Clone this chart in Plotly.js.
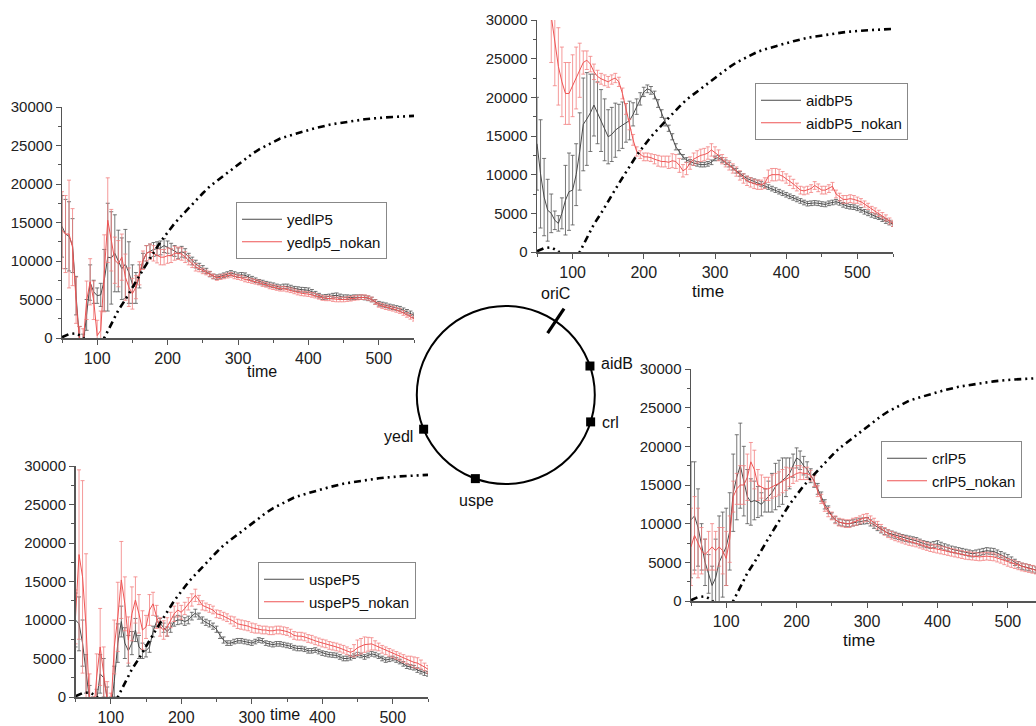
<!DOCTYPE html>
<html>
<head>
<meta charset="utf-8">
<script src="https://cdn.plot.ly/plotly-3.0.1.min.js"></script>
<style>html,body{margin:0;padding:0;background:#fff}#chart{width:1036px;height:726px}</style>
</head>
<body>
<div id="chart"></div>
<script>
// ---------- data ----------
const time = [50,55,60,65,70,75,80,85,90,95,100,105,110,115,120,125,130,135,140,145,150,155,160,165,170,175,180,185,190,195,200,205,210,215,220,225,230,235,240,245,250,255,260,265,270,275,280,285,290,295,300,305,310,315,320,325,330,335,340,345,350,355,360,365,370,375,380,385,390,395,400,405,410,415,420,425,430,435,440,445,450,455,460,465,470,475,480,485,490,495,500,505,510,515,520,525,530,535,540,545,550];

// growth curve (dash-dot-dot), shared by all panels
const curveTime = [50,60,70,80,90,100,110,120,130,140,150,160,170,180,190,200,210,220,230,240,250,260,270,280,290,300,310,320,330,340,350,360,370,380,390,400,410,420,430,440,450,460,470,480,490,500,510,520,530,540,550];
const curve = [100,500,600,100,-1500,-1500,0,1800,3600,5000,6600,8100,9600,11100,12500,13700,14900,15900,16900,17900,18800,19700,20400,21100,21900,22600,23300,23900,24500,25000,25500,25900,26200,26500,26800,27000,27250,27500,27700,27850,28000,28150,28300,28400,28500,28600,28650,28700,28750,28800,28850];

// yedl panel
const yedlP5 = [14500,13500,13200,12000,5500,-500,-1000,3000,7200,6000,
5500,5600,7500,10500,10400,11000,10000,9000,9600,8500,
7000,6500,8000,10000,11000,11300,11500,11600,11700,12000,
11800,11500,11300,11000,11200,11000,10500,10000,9600,9300,
9000,8700,8300,8000,7900,8000,8150,8300,8450,8300,
8150,8200,8150,7900,7700,7500,7300,7200,7050,6950,
6850,6700,6600,6700,6700,6550,6400,6350,6280,6250,
6200,6000,5750,5500,5300,5350,5400,5500,5550,5400,
5300,5300,5250,5300,5300,5300,5250,5150,5000,4700,
4450,4350,4250,4100,4000,3900,3800,3600,3400,3200,2950];
const yedlP5_err = [4000,4500,4500,3500,2500,2000,1500,2000,2300,1500,
1000,1500,4000,7000,6000,5000,4000,4000,4500,4000,
2500,2000,1500,1000,1000,900,900,900,900,900,
800,800,700,700,700,600,500,500,500,400,
400,350,350,300,300,300,300,300,300,300,
300,300,300,300,300,300,300,300,300,300,
300,300,300,300,300,300,300,300,300,300,
300,300,300,300,300,300,300,300,300,300,
300,300,300,300,300,300,300,300,300,300,
300,300,300,300,300,300,300,300,300,300,300];
const yedlp5_nokan = [14000,13500,13500,11800,4900,-500,-800,4900,7300,4900,
300,1000,8400,15300,12700,10100,9650,10500,7900,6600,
5750,6600,8400,10100,11000,11200,11000,10750,10500,10500,
10700,10700,11000,11000,10900,10500,10100,9650,9200,9000,
8700,8500,8300,8000,7800,7900,8000,8100,8200,8000,
7900,7800,7600,7500,7400,7300,7200,7000,6900,6700,
6600,6500,6400,6400,6300,6200,6050,5900,5800,5750,
5700,5600,5500,5350,5200,5150,5150,5050,5000,5000,
5000,5050,5100,5200,5250,5300,5300,5200,5000,4650,
4300,4150,4000,3900,3800,3650,3500,3250,3000,2750,2500];
const yedlp5_nokan_err = [5000,5000,7000,5000,3000,2000,2000,2500,3000,2500,
2000,2500,5000,5500,4000,3000,3000,3000,3000,2500,
2000,1500,1500,1200,1000,1000,1000,1000,1000,1000,
1000,900,900,800,800,700,600,500,500,400,
350,300,300,300,300,300,300,300,300,300,
300,300,300,300,300,300,300,300,300,300,
300,300,300,300,300,300,300,300,300,300,
300,300,300,300,300,300,300,300,300,300,
300,300,300,300,300,300,300,300,300,300,
300,300,300,300,300,300,300,300,300,300,300];

// aidb panel
const aidbP5 = [14000,10100,7100,5400,5000,4100,3700,5000,6700,7800,
8000,10000,13000,16500,17200,18000,19000,18000,17000,15800,
14900,15200,15750,16100,16400,16700,17000,17800,18800,19800,
20700,21100,20900,20300,19200,17900,16800,16000,14900,13600,
12950,12300,11900,11650,11500,11400,11300,11300,11400,11600,
12100,12200,11900,11600,11300,10900,10500,10100,9800,9500,
9300,9150,9000,8800,8600,8400,8200,8000,7800,7600,
7400,7200,7000,6800,6600,6400,6250,6300,6350,6300,
6200,6150,6300,6400,6500,6350,6100,5950,5850,5800,
5650,5450,5200,5000,4800,4650,4500,4250,4000,3800,3600];
const aidbP5_err = [6000,7000,5000,4000,2500,1200,1000,2000,4500,5000,
4500,4000,5000,6000,6000,5000,4000,4000,4000,4000,
3500,3500,3500,3000,3000,2500,2500,1500,1000,800,
600,500,500,500,500,500,500,400,400,400,
300,300,300,300,300,300,300,300,300,300,
300,300,300,300,300,300,300,300,300,300,
300,300,300,300,300,300,300,300,300,300,
300,300,300,300,300,300,300,300,300,300,
300,300,300,300,300,300,300,300,300,300,
300,300,300,300,300,300,300,300,300,300,300];
const aidbP5_nokan = [40000,40000,40000,40000,30500,27000,24000,22000,20500,20500,
21500,22500,23500,24500,24800,24300,23300,22700,22400,22200,
22000,22300,22500,22000,20500,18500,16500,14500,13000,12600,
12300,12300,12200,12000,11800,11700,11700,11600,11800,11700,
11200,10500,10800,11500,12000,12300,12500,12600,12800,13200,
12900,12500,12000,11600,11200,10800,10400,9900,9500,9200,
9000,8800,8700,8700,8900,9800,10000,10000,10000,9800,
9500,9200,8800,8400,8000,7900,8000,8200,8600,8300,
8000,8000,8200,8500,7500,7100,6800,6800,6900,6800,
6700,6500,6200,5900,5500,5300,5000,4700,4400,4000,3700];
const aidbP5_nokan_err = [6000,6000,6000,6000,6000,5500,5000,4500,4000,4000,
4000,4000,3500,1500,1200,1000,1000,800,700,700,
700,600,600,600,700,700,700,700,600,500,
500,500,500,600,700,700,700,800,900,900,
900,800,800,800,800,800,800,800,800,800,
700,700,600,600,600,600,600,600,600,600,
600,600,600,600,700,800,800,800,700,600,
600,600,600,500,500,500,500,500,500,500,
500,500,500,500,500,500,500,500,500,500,
400,400,400,400,400,400,400,400,400,400,400];

// uspe panel
const uspeP5 = [10000,9500,7000,3000,-500,-1500,-500,3000,2500,-200,
-1500,2000,7000,9800,7000,6000,7000,8700,6500,6000,
6000,6500,8500,9800,9600,9000,8500,9000,9800,10000,
10000,9800,10000,10500,10900,10500,10000,9700,9500,9200,
8800,8000,7400,7000,7000,7200,7300,7300,7200,7100,
7000,7200,7400,7300,7000,6900,6800,6900,6900,6800,
6700,6600,6400,6300,6300,6200,6000,6000,6100,5900,
5700,5600,5500,5450,5400,5200,5000,5000,5100,5300,
5500,5400,5200,5400,5600,5500,5300,5000,4800,4900,
5000,4800,4600,4300,4000,3900,3800,3500,3300,3100,3000];
const uspeP5_err = [3500,3500,3000,2500,2000,1500,1500,2500,2500,1500,
1500,2000,2500,2000,2000,2000,1500,1500,1500,1000,
800,700,700,700,600,600,600,600,600,600,
500,500,500,500,500,400,400,400,400,400,
400,400,400,300,300,300,300,300,300,300,
300,300,300,300,300,300,300,300,300,300,
300,300,300,300,300,300,300,300,300,300,
300,300,300,300,300,300,300,300,300,300,
300,300,300,300,300,300,300,300,300,300,
300,300,300,300,300,300,300,300,300,300,300];
const uspeP5_nokan = [10400,18500,15600,9100,-1000,-3000,2600,6500,3000,-500,
-2000,6500,10400,15200,12100,7400,10800,12600,10800,8700,
9100,11300,12100,10400,9100,8700,9100,10000,10800,11300,
11000,11500,12100,12600,13200,12600,11900,11700,11500,11300,
10800,10700,10500,10300,10000,9800,9500,9400,9300,9200,
9000,8900,8800,8700,8700,8600,8600,8700,8700,8600,
8500,8300,8000,7900,7900,7800,7600,7500,7300,7150,
7000,6900,6700,6600,6500,6350,6200,6000,5800,6000,
6400,6600,6800,6850,6900,6700,6500,6200,6000,5800,
5600,5400,5200,5000,4800,4700,4500,4400,4200,3900,3600];
const uspeP5_nokan_err = [3500,11000,12500,9500,4000,3000,3000,5000,3500,2500,
2500,3500,4500,5000,3500,3000,3500,3000,2500,2500,
1500,2000,1500,1500,1200,1200,1200,1000,1000,900,
900,800,800,800,800,600,600,500,500,500,
500,500,500,500,500,600,600,600,600,600,
600,600,500,500,500,500,500,500,500,500,
500,500,500,500,500,500,500,500,500,500,
500,500,500,500,500,500,500,500,500,800,
1000,1000,1000,900,800,600,500,500,500,500,
500,500,500,500,500,600,700,700,600,500,500];

// crl panel
const crlP5 = [10500,11000,9500,7000,5000,3500,2000,3000,5000,6000,
7000,9000,14000,16000,17500,15500,13500,12800,13000,12800,
12500,13000,13500,14000,14800,15200,15500,16000,16500,17500,
18500,18200,17500,17000,16200,15500,14500,13500,12500,11800,
11000,10500,10200,10100,10000,10000,10100,10200,10300,10350,
10400,10100,9800,9500,9200,9000,8800,8650,8500,8350,
8200,8100,8000,7900,7800,7600,7400,7300,7200,7300,
7400,7200,7000,6850,6700,6600,6500,6400,6300,6200,
6100,6200,6300,6400,6500,6450,6400,6200,6000,5800,
5600,5300,5000,4700,4500,4400,4300,4150,4000,3850,3700];
const crlP5_err = [7500,7000,5000,3000,3000,2500,2500,5000,6000,5500,
5000,5000,5000,5500,5500,4500,3500,3000,2500,2000,
1500,1500,2000,2500,3000,3000,3000,2500,2000,1500,
1300,1200,1200,1000,900,800,700,600,600,500,
400,400,400,400,400,400,400,400,400,400,
400,400,400,400,400,400,400,400,400,400,
400,400,400,400,400,400,400,400,400,400,
400,400,400,400,400,400,400,400,400,400,
400,400,400,400,400,400,400,400,400,400,
400,400,400,400,400,400,400,400,400,400,400];
const crlP5_nokan = [7000,8500,7500,6500,6000,6500,7000,6500,7000,6500,
5500,8000,13500,14500,15000,15000,16000,18000,17000,15000,
14800,14500,14500,14800,15000,15200,15500,15800,16000,16200,
16500,16600,16500,16500,16200,15500,14200,13200,12200,11500,
11000,10500,10200,10100,10000,10000,10200,10300,10500,10700,
10800,10500,10200,9800,9400,9000,8700,8500,8300,8150,
8000,7850,7700,7600,7500,7350,7200,7050,6900,6800,
6700,6600,6500,6400,6300,6200,6100,6000,5900,5850,
5800,5750,5700,5750,5800,5750,5700,5550,5400,5200,
5000,4850,4700,4550,4400,4300,4200,4100,4000,3850,3700];
const crlP5_nokan_err = [5000,5000,4500,3000,2000,2500,3000,2500,2500,3000,
3500,3000,2000,2000,2500,2500,3000,2500,2500,2000,
1500,1500,1500,1500,1500,1500,1500,1500,1200,1000,
1000,900,800,800,700,700,700,600,600,600,
500,500,500,500,500,500,500,500,500,500,
500,500,500,500,500,500,500,500,500,500,
500,500,500,500,500,500,500,500,500,500,
500,500,500,500,500,500,500,500,500,500,
500,500,500,500,500,500,500,500,500,500,
500,500,500,500,500,500,500,500,500,500,500];

// circle diagram
const geneNames = ['aidB','crl','yedl','uspe'];
const geneAngles = [19, -17.6, 202.6, 250];
const oriAngle = 56;

const yTicks = [0,5000,10000,15000,20000,25000,30000];
const xTicks = [100,200,300,400,500];

// ---------- styles ----------
const FONT = 'Liberation Sans, Arial, sans-serif';
const BLACK_LINE = '#4a4a4a', BLACK_ERR = '#555555';
const RED_LINE = '#ee5555', RED_ERR = '#f28080';

const panels = [
  {name:'yedl', ax:'', legend:'legend', black:['yedlP5', yedlP5, yedlP5_err], red:['yedlp5_nokan', yedlp5_nokan, yedlp5_nokan_err]},
  {name:'aidb', ax:'2', legend:'legend2', black:['aidbP5', aidbP5, aidbP5_err], red:['aidbP5_nokan', aidbP5_nokan, aidbP5_nokan_err]},
  {name:'uspe', ax:'3', legend:'legend3', black:['uspeP5', uspeP5, uspeP5_err], red:['uspeP5_nokan', uspeP5_nokan, uspeP5_nokan_err]},
  {name:'crl', ax:'4', legend:'legend4', black:['crlP5', crlP5, crlP5_err], red:['crlP5_nokan', crlP5_nokan, crlP5_nokan_err]}
];

const traces = [];
panels.forEach(p => {
  const xa = 'x' + p.ax, ya = 'y' + p.ax;
  [[p.black, BLACK_LINE, BLACK_ERR], [p.red, RED_LINE, RED_ERR]].forEach(([s, lc, ec]) => {
    traces.push({
      type:'scatter', mode:'lines', x: time, y: s[1], name: s[0],
      xaxis: xa, yaxis: ya, legend: p.legend,
      line:{color: lc, width: 1},
      error_y:{type:'data', array: s[2], visible:true, color: ec, thickness: 0.8, width: 2}
    });
  });
  traces.push({
    type:'scatter', mode:'lines', x: curveTime, y: curve, xaxis: xa, yaxis: ya,
    showlegend:false, hoverinfo:'skip',
    line:{color:'#000', width:2.6, dash:'7px,4px,2px,4px,2px,4px'}
  });
});

// circle diagram traces (circle = radial grid line at r = 1)
const RMAX = 1.3;
traces.push({
  type:'scatterpolar', r: geneAngles.map(() => 1), theta: geneAngles, mode:'markers',
  marker:{symbol:'square', size:9, color:'#000'}, showlegend:false, hoverinfo:'skip'
});
traces.push({
  type:'scatterpolar', r:[0.84, 1.17], theta:[oriAngle, oriAngle], mode:'lines',
  line:{color:'#000', width:3.2}, showlegend:false, hoverinfo:'skip'
});

const W = 1036, H = 726;
const px = v => v / W, py = v => 1 - v / H;

function xAxis(d0, d1, r1, anchor) {
  return {
    domain:[px(d0), px(d1)], range:[50, r1], anchor: anchor,
    tickvals: xTicks, ticks:'outside', ticklen:5, tickwidth:1, tickcolor:'#555',
    minor:{ticks:'outside', ticklen:3, dtick:50, tick0:0, tickcolor:'#555'},
    showline:true, linecolor:'#555', linewidth:1.5, showgrid:false, zeroline:false,
    tickfont:{family:FONT, size:16, color:'#222'}, fixedrange:true
  };
}
function yAxis(d0, d1, anchor) {
  return {
    domain:[py(d1), py(d0)], range:[0, 30000], anchor: anchor,
    tickvals: yTicks, tickformat:'d', ticks:'outside', ticklen:5, tickwidth:1, tickcolor:'#555',
    minor:{ticks:'outside', ticklen:3, dtick:2500, tick0:0, tickcolor:'#555'},
    showline:true, linecolor:'#555', linewidth:1.5, showgrid:false, zeroline:false,
    tickfont:{family:FONT, size:15, color:'#222'}, fixedrange:true
  };
}
function legendAt(x, y) {
  return {x: px(x), y: py(y), xanchor:'left', yanchor:'top', bgcolor:'#fff',
    bordercolor:'#888', borderwidth:1, font:{family:FONT, size:15, color:'#111'},
    tracegroupgap:0, itemwidth:40};
}
function label(text, x, y, xanchor, size) {
  return {text: text, x: px(x), y: py(y), xref:'paper', yref:'paper', showarrow:false,
    xanchor: xanchor || 'center', yanchor:'middle', font:{family:FONT, size: size || 17, color:'#111'}};
}

const CX = 505.8, CY = 395, R = 89 * RMAX;
const layout = {
  width: W, height: H, margin:{l:0, r:0, t:0, b:0},
  paper_bgcolor:'#fff', plot_bgcolor:'rgba(0,0,0,0)',
  font:{family:FONT},
  xaxis: xAxis(62, 414, 550, 'y'),    yaxis: yAxis(107, 338, 'x'),
  xaxis2: xAxis(537, 893, 550, 'y2'), yaxis2: yAxis(20, 252, 'x2'),
  xaxis3: xAxis(75.5, 428, 550, 'y3'), yaxis3: yAxis(466, 697, 'x3'),
  xaxis4: xAxis(691, 1036, 540, 'y4'), yaxis4: yAxis(369, 601, 'x4'),
  legend: legendAt(236, 202),
  legend2: legendAt(755, 83),
  legend3: legendAt(258, 562),
  legend4: legendAt(881, 441),
  polar: {
    domain:{x:[px(CX - R), px(CX + R)], y:[py(CY + R), py(CY - R)]},
    bgcolor:'rgba(0,0,0,0)',
    radialaxis:{visible:true, range:[0, RMAX], tickvals:[1], showticklabels:false, ticks:'',
      showline:false, showgrid:true, gridcolor:'#000', gridwidth:2},
    angularaxis:{showline:false, showticklabels:false, ticks:'', showgrid:false, rotation:0, direction:'counterclockwise'}
  },
  annotations: [
    label('time', 262, 372, 'center', 16), label('time', 708, 291), label('time', 285, 714, 'center', 16), label('time', 859, 640),
    label('oriC', 555, 293, 'center', 16),
    label(geneNames[0], 599, 363, 'left', 16),
    label(geneNames[1], 600, 423, 'left', 16),
    label(geneNames[2], 415, 436, 'right', 16),
    label(geneNames[3], 476, 500, 'center', 16)
  ],
  showlegend: true
};

Plotly.newPlot('chart', traces, layout, {staticPlot:true, displayModeBar:false});
</script>
</body>
</html>
